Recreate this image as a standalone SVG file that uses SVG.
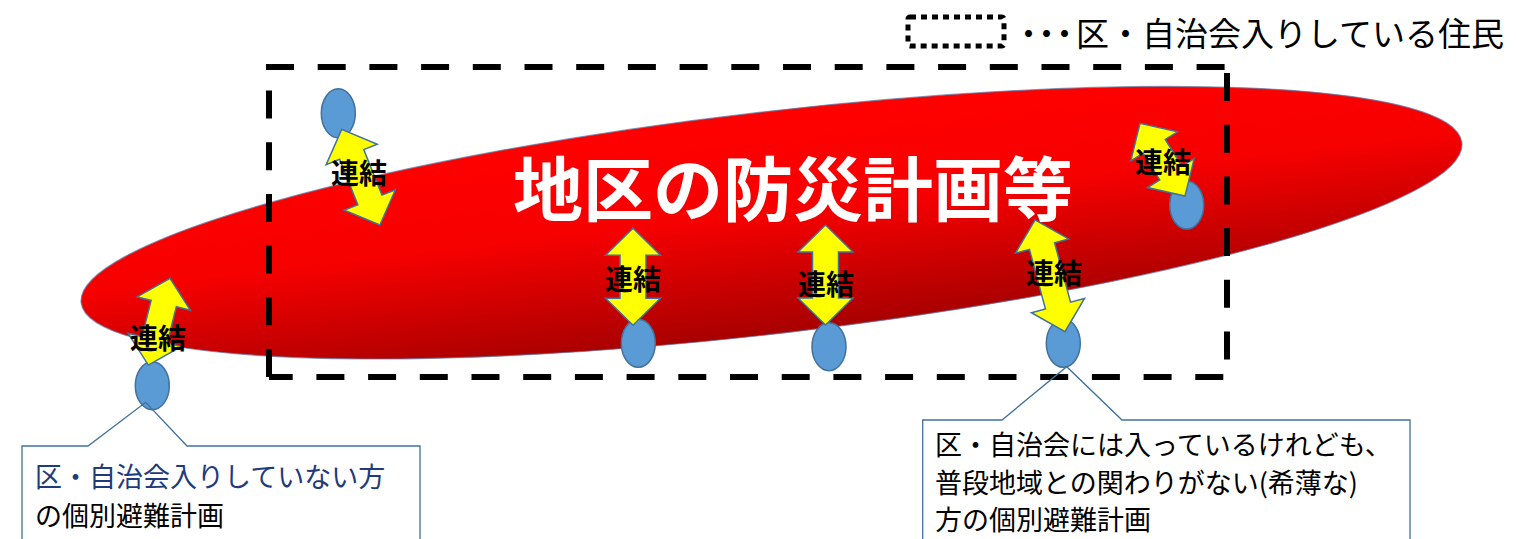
<svg xmlns="http://www.w3.org/2000/svg" width="1516" height="539" viewBox="0 0 1516 539">
<defs>
  <linearGradient id="redGrad" x1="0" y1="0" x2="0" y2="1">
    <stop offset="0" stop-color="#FF0000"/>
    <stop offset="0.45" stop-color="#F70000"/>
    <stop offset="1" stop-color="#A80000"/>
  </linearGradient>
</defs>
<style>
  .jp { font-family: "Noto Sans CJK JP", "Noto Sans", sans-serif; }
  .node { fill: #5B9BD5; stroke: #41719C; stroke-width: 1.5; }
  .arrow { fill: #FFFF00; stroke: #41719C; stroke-width: 1.5; stroke-linejoin: miter; }
  .lbl { font-family: "Noto Sans CJK JP", sans-serif; font-weight: bold; font-size: 28px; fill: #000; text-anchor: middle; }
  .dash { stroke: #000; stroke-width: 6; fill: none; stroke-dasharray: 28 23.7; }
  .callout { fill: none; stroke: #41719C; stroke-width: 1.3; }
  .ctext { font-family: "Noto Sans CJK JP", sans-serif; font-size: 27px; fill: #000; }
</style>
<rect width="1516" height="539" fill="#FFFFFF"/>

<g id="plan">
  <ellipse cx="0" cy="0" rx="695" ry="111" transform="translate(771.5,222.7) rotate(-6.62)" fill="url(#redGrad)" stroke="#5A7BA6" stroke-width="1.2" stroke-opacity="0.7"/>
  <text class="jp" x="793" y="216" font-size="70" font-weight="bold" fill="#FFFFFF" text-anchor="middle">地区の防災計画等</text>
</g>

<g id="member-area">
  <line class="dash" x1="266" y1="67" x2="1227" y2="67"/>
  <line class="dash" x1="1227" y1="67" x2="1227" y2="377" stroke-dashoffset="45.7"/>
  <line class="dash" x1="1227" y1="377" x2="269" y2="377" stroke-dashoffset="48"/>
  <line class="dash" x1="269" y1="377" x2="269" y2="67"/>
</g>

<g id="legend">
  <rect x="908" y="17" width="96" height="29" rx="2" fill="none" stroke="#000" stroke-width="5" stroke-dasharray="6 5"/>
  <text class="jp" x="1012" y="46" font-size="33" fill="#000"><tspan letter-spacing="-15">・・・</tspan><tspan dx="10">区・自治会入りしている住民</tspan></text>
</g>

<g id="node-left"><ellipse class="node" cx="152.3" cy="385.7" rx="17" ry="24"/></g>
<g id="node-topleft"><ellipse class="node" cx="338.3" cy="113.3" rx="17" ry="24.5"/></g>
<g id="node-mid1"><ellipse class="node" cx="638.3" cy="343.3" rx="17" ry="24"/></g>
<g id="node-mid2"><ellipse class="node" cx="829" cy="346.7" rx="17" ry="24"/></g>
<g id="node-rightbottom"><ellipse class="node" cx="1063.3" cy="343.3" rx="17" ry="24"/></g>
<g id="node-righttop"><ellipse class="node" cx="1186.7" cy="205" rx="17" ry="24"/></g>

<g id="connectors">
  <path class="arrow" transform="translate(159.2,321.7) rotate(14.05)" d="M0,-44.7 L27.5,-18.7 L13,-18.7 L13,18.7 L27.5,18.7 L0,44.7 L-27.5,18.7 L-13,18.7 L-13,-18.7 L-27.5,-18.7 Z"/>
  <path class="arrow" transform="translate(360.8,177.2) rotate(-21.8)" d="M0,-51.5 L27.5,-24.5 L13,-24.5 L13,24.5 L27.5,24.5 L0,51.5 L-27.5,24.5 L-13,24.5 L-13,-24.5 L-27.5,-24.5 Z"/>
  <path class="arrow" transform="translate(633,276.7)" d="M0,-48.5 L27.5,-21.5 L13,-21.5 L13,21.5 L27.5,21.5 L0,48.5 L-27.5,21.5 L-13,21.5 L-13,-21.5 L-27.5,-21.5 Z"/>
  <path class="arrow" transform="translate(825.5,275)" d="M0,-50 L27.5,-23 L13,-23 L13,23 L27.5,23 L0,50 L-27.5,23 L-13,23 L-13,-23 L-27.5,-23 Z"/>
  <path class="arrow" transform="translate(1050,275.8) rotate(-15)" d="M0,-57.8 L27.5,-30.8 L13,-30.8 L13,30.8 L27.5,30.8 L0,57.8 L-27.5,30.8 L-13,30.8 L-13,-30.8 L-27.5,-30.8 Z"/>
  <path class="arrow" transform="translate(1162.5,159.7) rotate(-31.8)" d="M0,-42.75 L27.5,-15.75 L13,-15.75 L13,15.75 L27.5,15.75 L0,42.75 L-27.5,15.75 L-13,15.75 L-13,-15.75 L-27.5,-15.75 Z"/>

  <text class="lbl" x="158" y="349">連結</text>
  <text class="lbl" x="359" y="184">連結</text>
  <text class="lbl" x="633" y="290">連結</text>
  <text class="lbl" x="826" y="295">連結</text>
  <text class="lbl" x="1054" y="284">連結</text>
  <text class="lbl" x="1163" y="173">連結</text>
</g>

<g id="callout-left">
  <path class="callout" d="M22,560 V446 H88 L145.7,402.3 L187,446 H420 V560"/>
  <text class="ctext" x="35" y="487" style="fill:#1F3B7A">区・自治会入りしていない方</text>
  <text class="ctext" x="35" y="526">の個別避難計画</text>
</g>

<g id="callout-right">
  <path class="callout" d="M922.7,560 V420 H1002 L1066.7,366.7 L1122,420 H1410 V560"/>
  <text class="ctext" x="935" y="455">区・自治会には入っているけれども、</text>
  <text class="ctext" x="935" y="493">普段地域との関わりがない(希薄な)</text>
  <text class="ctext" x="935" y="530">方の個別避難計画</text>
</g>
</svg>
